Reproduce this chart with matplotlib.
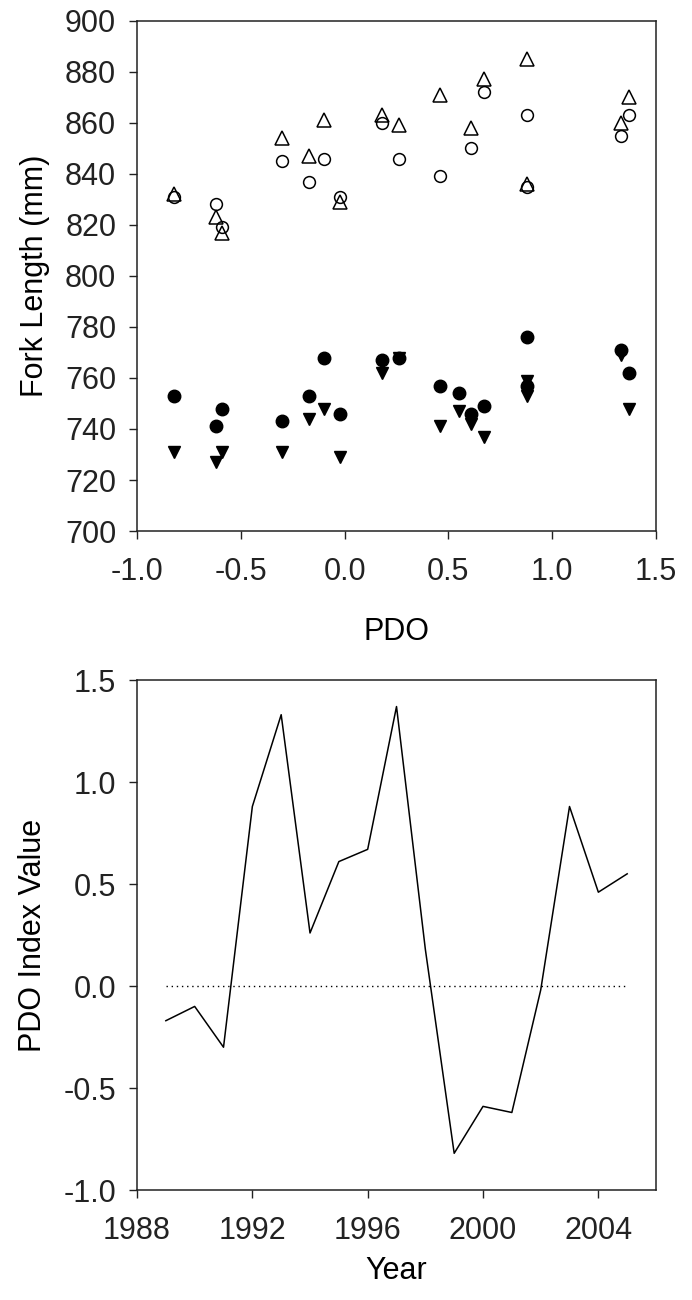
import numpy as np
import matplotlib
matplotlib.use("Agg")
import matplotlib.pyplot as plt

plt.rcParams['font.family'] = ['Liberation Sans', 'DejaVu Sans']

# PDO index by year
years = np.array([1989, 1990, 1991, 1992, 1993, 1994, 1995, 1996, 1997,
                  1998, 1999, 2000, 2001, 2002, 2003, 2004, 2005])
pdo = np.array([-0.17, -0.10, -0.30, 0.88, 1.33, 0.26, 0.61, 0.67, 1.37,
                0.18, -0.82, -0.59, -0.62, -0.02, 0.88, 0.46, 0.55])

# fork length (mm) for each year, four groups
open_tri = np.array([847, 861, 854, 885, 860, 859, 858, 877, 870,
                     863, 832, 817, 823, 829, 836, 871, np.nan])
open_circ = np.array([837, 846, 845, 863, 855, 846, 850, 872, 863,
                      860, 831, 819, 828, 831, 835, 839, np.nan])
fill_circ = np.array([753, 768, 743, 776, 771, 768, 746, 749, 762,
                      767, 753, 748, 741, 746, 757, 757, 754])
fill_tri = np.array([744, 748, 731, 759, 769, 768, 742, 737, 748,
                     762, 731, 731, 727, 729, 753, 741, 747])

fig = plt.figure(figsize=(6.92, 13.0), dpi=100)
ax1 = fig.add_axes([0.198, 0.5915, 0.750, 0.3925])
ax2 = fig.add_axes([0.198, 0.0846, 0.750, 0.3923])

fs = 22

ax1.plot(pdo, fill_tri, 'v', color='black', ms=9, ls='none')
ax1.plot(pdo, fill_circ, 'o', color='black', ms=9, ls='none')
ax1.plot(pdo, open_tri, '^', mfc='none', mec='black', mew=1.1, ms=9.5, ls='none')
ax1.plot(pdo, open_circ, 'o', mfc='none', mec='black', mew=1.1, ms=8.5, ls='none')
ax1.set_xlim(-1.0, 1.5)
ax1.set_ylim(700, 900)
ax1.set_xticks([-1.0, -0.5, 0.0, 0.5, 1.0, 1.5])
ax1.set_xticklabels(['-1.0', '-0.5', '0.0', '0.5', '1.0', '1.5'])
ax1.set_yticks(np.arange(700, 901, 20))
ax1.set_xlabel('PDO', fontsize=fs, labelpad=21)
ax1.set_ylabel('Fork Length (mm)', fontsize=fs, labelpad=11)

ax2.plot(years, pdo, color='black', lw=1.1)
ax2.plot([years[0], years[-1]], [0, 0], color='black', lw=1.0, ls=(0, (1, 2.7)))
ax2.set_xlim(1988, 2006)
ax2.set_ylim(-1.0, 1.5)
ax2.set_xticks([1988, 1992, 1996, 2000, 2004])
ax2.set_yticks([-1.0, -0.5, 0.0, 0.5, 1.0, 1.5])
ax2.set_yticklabels(['-1.0', '-0.5', '0.0', '0.5', '1.0', '1.5'])
ax2.set_xlabel('Year', fontsize=fs, labelpad=7)
ax2.set_ylabel('PDO Index Value', fontsize=fs, labelpad=11)

for ax in (ax1, ax2):
    for s in ax.spines.values():
        s.set_linewidth(1.1)
        s.set_color('#222222')
    ax.tick_params(direction='out', length=6, width=1.0, labelsize=fs,
                   colors='#222222', pad=9)
    ax.tick_params(axis='x', pad=13)

fig.savefig('out.png', dpi=100)
